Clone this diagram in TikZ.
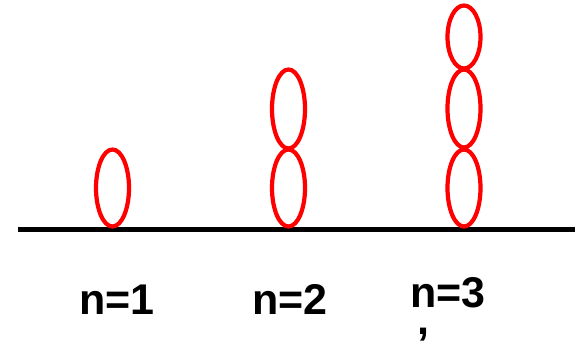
\documentclass[tikz,border=0pt]{standalone}
\usepackage{fontspec}
\setsansfont{Liberation Sans}
\definecolor{ringred}{HTML}{FF0000}

\begin{document}
\begin{tikzpicture}[x=1pt, y=-1pt, ring/.style={draw=ringred, line width=4.2pt},
  every node/.style={font=\sffamily\bfseries\fontsize{43}{43}\selectfont, inner sep=0pt, anchor=base}]
  \useasboundingbox (0,0) rectangle (575,347);
  % ground line
  \coordinate (gl) at (18,230);
  \coordinate (gr) at (575,230);
  \draw[line width=5pt] (gl) -- (gr);
  % n=1
  \draw[ring] (112.5,188) ellipse [x radius=16.5, y radius=38.5];
  % n=2
  \draw[ring] (288.5,188) ellipse [x radius=16.5, y radius=38.5];
  \draw[ring] (288.5,109) ellipse [x radius=16.5, y radius=39.5];
  % n=3
  \draw[ring] (464,188) ellipse [x radius=16.5, y radius=38.5];
  \draw[ring] (464,108.5) ellipse [x radius=16.5, y radius=39];
  \draw[ring] (464,37) ellipse [x radius=16.5, y radius=31.5];
  % labels
  \node (lab1) at (117,314) {n=1};
  \node (lab2) at (290,314) {n=2};
  \node (lab3) at (448,307) {n=3};
  \node[text height=5pt, text depth=6pt] (comma) at (423,334) {,};
\end{tikzpicture}
\end{document}
